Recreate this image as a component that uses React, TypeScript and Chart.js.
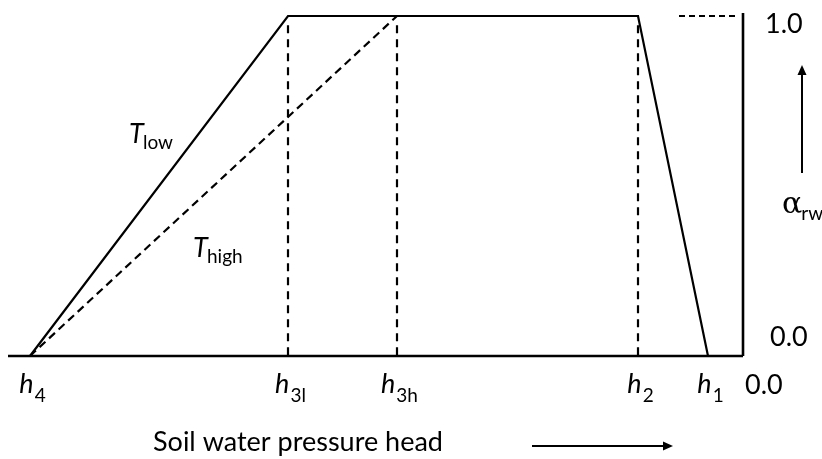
import React, { useEffect, useRef } from "react";
import { Chart, registerables } from "chart.js";

Chart.register(...registerables);

// Schematic pressure-head positions (arbitrary units, h4 = 0)
const hNames = ["h4", "h3l", "h3h", "h2", "h1"];
const hSubs = ["4", "3l", "3h", "2", "1"];
const hValues = [0, 258, 367, 608, 678];
const xMin = -22;
const xMax = 713;

// Reduction factor alpha_rw for low and high transpiration demand
const tLowX = [0, 258, 608, 678];
const tLowY = [0, 1, 1, 0];
const tHighX = [0, 367];
const tHighY = [0, 1];

// Vertical dashed guides at h3l, h3h, h2
const guideX = [258, 367, 608];
const guideTop = 0.973;

// Short dashed reference at alpha = 1 near the right axis
const refX = [649, 707];
const refY = [1, 1];

const yTickLabels = ["0.0", "1.0"];
const xAxisTitle = "Soil water pressure head";

const FONT = "Lato, 'Open Sans', sans-serif";

const textPlugin = {
  id: "schematicText",
  afterDraw(chart: any) {
    const ctx = chart.ctx as CanvasRenderingContext2D;
    const xs = chart.scales.x;
    const ys = chart.scales.y;
    const bottom = ys.getPixelForValue(0);
    const top = ys.getPixelForValue(1);
    const right = xs.getPixelForValue(xMax);
    ctx.save();
    ctx.fillStyle = "#000";
    ctx.strokeStyle = "#000";
    ctx.textBaseline = "alphabetic";
    ctx.textAlign = "left";

    // h labels
    hValues.forEach((v, i) => {
      const px = xs.getPixelForValue(v);
      ctx.font = `italic 27px ${FONT}`;
      const wh = ctx.measureText("h").width;
      ctx.font = `19px ${FONT}`;
      const wsb = ctx.measureText(hSubs[i]).width;
      const start = px - (wh + wsb) / 2 + 2;
      ctx.font = `italic 27px ${FONT}`;
      ctx.fillText("h", start, bottom + 37);
      ctx.font = `19px ${FONT}`;
      ctx.fillText(hSubs[i], start + wh + 1, bottom + 46);
    });

    // 0.0 under the right axis
    ctx.font = `27px ${FONT}`;
    ctx.fillText(yTickLabels[0], right + 2, bottom + 38);

    // right-hand alpha tick labels
    ctx.fillText(yTickLabels[1], right + 22, top + 17);
    ctx.fillText(yTickLabels[0], right + 27, bottom - 10);

    // x axis title
    ctx.fillText(xAxisTitle, 153, bottom + 95);

    // right arrow
    const ay = bottom + 90;
    ctx.lineWidth = 2;
    ctx.beginPath();
    ctx.moveTo(532, ay);
    ctx.lineTo(664, ay);
    ctx.stroke();
    ctx.beginPath();
    ctx.moveTo(673, ay);
    ctx.lineTo(663, ay - 4.5);
    ctx.lineTo(663, ay + 4.5);
    ctx.closePath();
    ctx.fill();

    // up arrow
    const ax = 802;
    ctx.beginPath();
    ctx.moveTo(ax, 173);
    ctx.lineTo(ax, 74);
    ctx.stroke();
    ctx.beginPath();
    ctx.moveTo(ax, 65);
    ctx.lineTo(ax - 4.5, 75);
    ctx.lineTo(ax + 4.5, 75);
    ctx.closePath();
    ctx.fill();

    // alpha_rw
    ctx.font = `30px 'DejaVu Serif', serif`;
    ctx.fillText("α", 782, 213);
    const wa = ctx.measureText("α").width;
    ctx.font = `19px ${FONT}`;
    ctx.fillText("rw", 782 + wa - 1, 220);

    // T_low
    ctx.font = `italic 27px ${FONT}`;
    ctx.fillText("T", 129, 143);
    ctx.font = `19px ${FONT}`;
    ctx.fillText("low", 143, 149);

    // T_high
    ctx.font = `italic 27px ${FONT}`;
    ctx.fillText("T", 193, 257);
    ctx.font = `19px ${FONT}`;
    ctx.fillText("high", 207, 263);

    ctx.restore();
  },
};

const pts = (xs: number[], ys: number[]) => xs.map((x, i) => ({ x, y: ys[i] }));

export default function App() {
  const ref = useRef<HTMLCanvasElement>(null);
  useEffect(() => {
    if (!ref.current) return;
    const base = {
      showLine: true,
      pointRadius: 0,
      borderColor: "#000",
      backgroundColor: "#000",
      borderWidth: 2.2,
      fill: false,
      clip: false as any,
      tension: 0,
      borderJoinStyle: "miter" as const,
      borderCapStyle: "butt" as const,
    };
    const datasets: any[] = [
      { ...base, label: "T low", data: pts(tLowX, tLowY) },
      { ...base, label: "T high", data: pts(tHighX, tHighY), borderDash: [8, 5] },
      ...guideX.map((gx) => ({
        ...base,
        label: "guide",
        data: [
          { x: gx, y: guideTop },
          { x: gx, y: 0 },
        ],
        borderDash: [8, 6],
      })),
      { ...base, label: "ref", data: pts(refX, refY), borderDash: [6, 4] },
      {
        ...base,
        label: "x axis",
        borderWidth: 2.6,
        data: [
          { x: xMin, y: 0 },
          { x: xMax, y: 0 },
        ],
      },
      {
        ...base,
        label: "y axis",
        borderWidth: 2.6,
        data: [
          { x: xMax, y: 1.009 },
          { x: xMax, y: 0 },
        ],
      },
    ];
    const chart = new Chart(ref.current, {
      type: "scatter",
      data: { datasets },
      options: {
        animation: false,
        responsive: false,
        maintainAspectRatio: false,
        layout: { padding: { left: 8, right: 79, top: 16, bottom: 103 } },
        plugins: { legend: { display: false }, tooltip: { enabled: false } },
        scales: {
          x: { type: "linear", min: xMin, max: xMax, display: false },
          y: { type: "linear", min: 0, max: 1, display: false },
        },
      },
      plugins: [textPlugin],
    });
    return () => chart.destroy();
  }, []);
  return (
    <div style={{ position: "absolute", left: 0, top: 0, width: 822, height: 459, background: "#fff" }}>
      <canvas ref={ref} width={822} height={459} style={{ display: "block" }} />
    </div>
  );
}
